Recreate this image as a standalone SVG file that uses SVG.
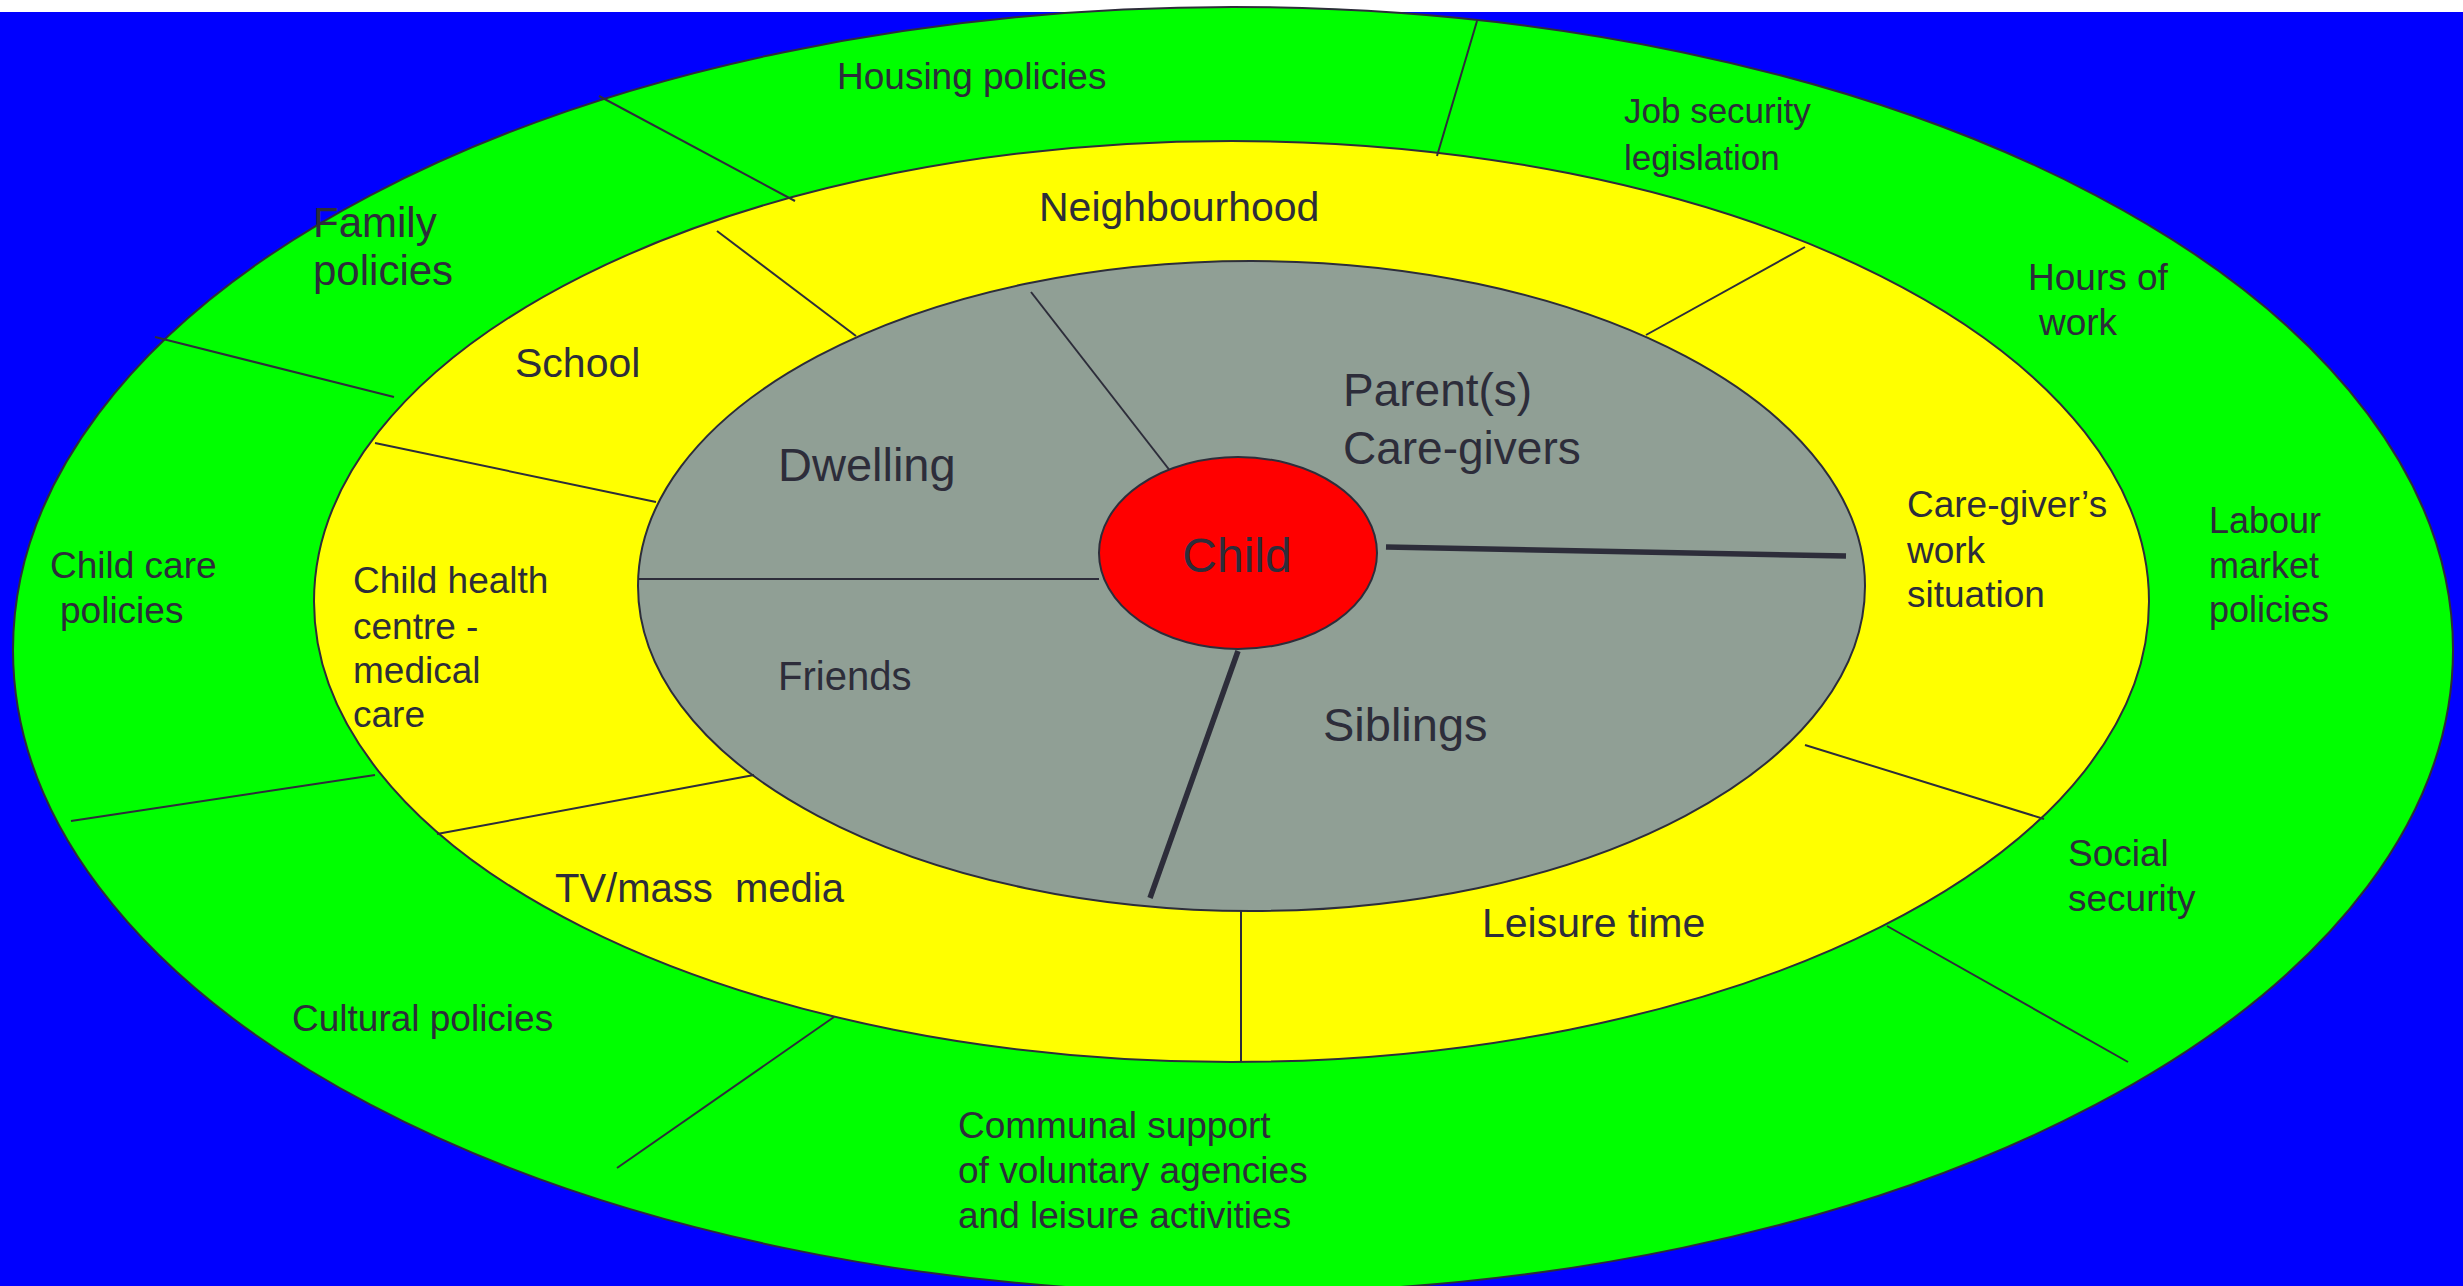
<svg xmlns="http://www.w3.org/2000/svg" width="2463" height="1286" viewBox="0 0 2463 1286">
<style>
.ring{stroke:#2d2d3a;stroke-width:2}
.thin{stroke:#2d2d3a;stroke-width:2;fill:none}
.thick{stroke:#2d2d3a;stroke-width:5.5;fill:none}
text{font-family:"Liberation Sans",Arial,sans-serif;fill:#2d2d3a}
.g{font-size:37px}
.y{font-size:37px}
</style>
<rect x="0" y="0" width="2463" height="1286" fill="#ffffff"/>
<rect x="0" y="12" width="2463" height="1274" fill="#0000ff"/>
<g id="outer-ring"><ellipse class="ring" cx="1233" cy="650" rx="1220" ry="643" fill="#00ff00"/></g>
<g id="middle-ring"><ellipse class="ring" cx="1231.5" cy="601.5" rx="917.5" ry="460.5" fill="#ffff00"/></g>
<g id="inner-ring"><ellipse class="ring" cx="1251.5" cy="586" rx="613.5" ry="325" fill="#909f95"/></g>
<g id="connectors">
<line class="thin" x1="599" y1="96" x2="795" y2="201"/>
<line class="thin" x1="1477" y1="21" x2="1437" y2="156"/>
<line class="thin" x1="155" y1="337" x2="394" y2="397"/>
<line class="thin" x1="71" y1="821" x2="375" y2="775"/>
<line class="thin" x1="617" y1="1168" x2="834" y2="1017"/>
<line class="thin" x1="1887" y1="926" x2="2128" y2="1062"/>
<line class="thin" x1="717" y1="231" x2="856" y2="336"/>
<line class="thin" x1="375" y1="443" x2="656" y2="502"/>
<line class="thin" x1="437" y1="834" x2="754" y2="775"/>
<line class="thin" x1="1241" y1="911" x2="1241" y2="1062"/>
<line class="thin" x1="1805" y1="745" x2="2044" y2="819"/>
<line class="thin" x1="1646" y1="335" x2="1805" y2="247"/>
<line class="thin" x1="638" y1="579" x2="1099" y2="579"/>
<line class="thin" x1="1031" y1="292" x2="1171" y2="472"/>
<line class="thick" x1="1386" y1="547" x2="1846" y2="556"/>
<line class="thick" x1="1238" y1="651" x2="1150" y2="898"/>
</g>
<g id="child"><ellipse class="ring" cx="1238" cy="553" rx="139" ry="96" fill="#ff0000"/>
<text x="1237" y="572" font-size="48" text-anchor="middle">Child</text></g>
<g id="housing-policies"><text class="g" x="837" y="89">Housing policies</text></g>
<g id="family-policies"><text x="313" y="237" font-size="42">Family</text><text x="313" y="285" font-size="42">policies</text></g>
<g id="job-security"><text x="1624" y="123" font-size="35">Job security</text><text x="1624" y="170" font-size="35">legislation</text></g>
<g id="hours-of-work"><text class="g" x="2028" y="290">Hours of</text><text class="g" x="2039" y="335">work</text></g>
<g id="labour-market"><text x="2209" y="533" font-size="36">Labour</text><text x="2209" y="578" font-size="36">market</text><text x="2209" y="622" font-size="36">policies</text></g>
<g id="social-security"><text class="g" x="2068" y="866">Social</text><text class="g" x="2068" y="911">security</text></g>
<g id="communal-support"><text class="g" x="958" y="1138">Communal support</text><text class="g" x="958" y="1183">of voluntary agencies</text><text class="g" x="958" y="1228">and leisure activities</text></g>
<g id="cultural-policies"><text class="g" x="292" y="1031">Cultural policies</text></g>
<g id="child-care-policies"><text class="g" x="50" y="578">Child care</text><text class="g" x="60" y="623">policies</text></g>
<g id="neighbourhood"><text x="1039" y="221" font-size="41">Neighbourhood</text></g>
<g id="school"><text x="515" y="377" font-size="41">School</text></g>
<g id="child-health"><text class="y" x="353" y="593">Child health</text><text class="y" x="353" y="639">centre -</text><text class="y" x="353" y="683">medical</text><text class="y" x="353" y="727">care</text></g>
<g id="tv-mass-media"><text x="555" y="902" font-size="40" xml:space="preserve">TV/mass  media</text></g>
<g id="leisure-time"><text x="1482" y="937" font-size="41">Leisure time</text></g>
<g id="care-giver-work"><text class="y" x="1907" y="517">Care-giver’s</text><text class="y" x="1907" y="563">work</text><text class="y" x="1907" y="607">situation</text></g>
<g id="dwelling"><text x="778" y="481" font-size="47">Dwelling</text></g>
<g id="parents"><text x="1343" y="406" font-size="46">Parent(s)</text><text x="1343" y="464" font-size="46">Care-givers</text></g>
<g id="friends"><text x="778" y="690" font-size="40">Friends</text></g>
<g id="siblings"><text x="1323" y="741" font-size="47">Siblings</text></g>
</svg>
